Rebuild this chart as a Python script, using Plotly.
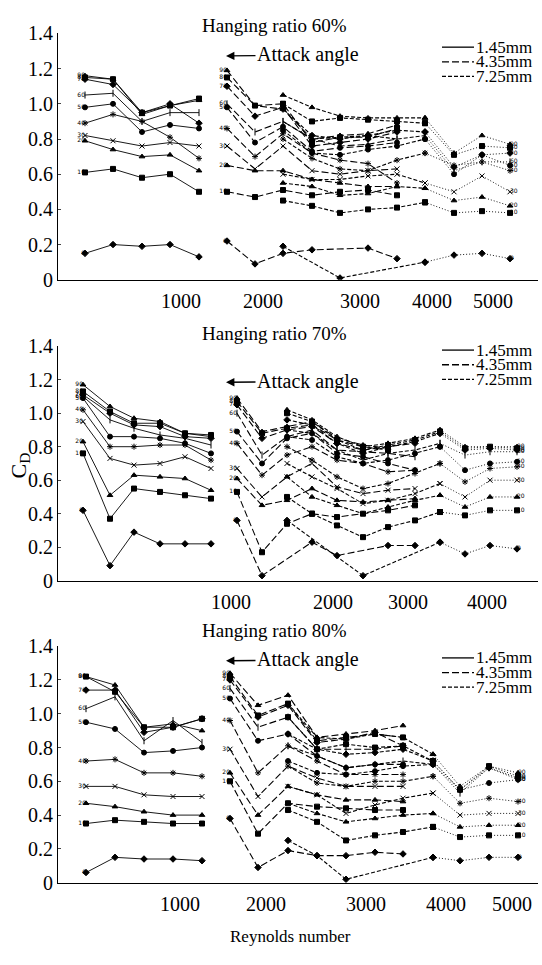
import plotly.graph_objects as go

W, H = 542, 965

ANGLE_LABELS = ["0", "10", "20", "30", "40", "50", "60", "70", "80", "90"]
MARKERS = ["diamond", "square", "triangle-up", "x-thin-open", "asterisk-open",
           "circle", "line-ns-open", "diamond", "square", "triangle-up"]
Y_TICKS = [0, 0.2, 0.4, 0.6, 0.8, 1.0, 1.2, 1.4]
Y_TICKTEXT = ["0", "0.2", "0.4", "0.6", "0.8", "1.0", "1.2", "1.4"]
LEGEND_NAMES = ["1.45mm", "4.35mm", "7.25mm"]

# ---------------- Hanging ratio 60% ----------------
P60_X_A = [27, 55, 84, 112, 141]
P60_A = [
    [0.15, 0.20, 0.19, 0.20, 0.13],
    [0.61, 0.63, 0.58, 0.60, 0.50],
    [0.79, 0.74, 0.70, 0.71, 0.62],
    [0.82, 0.79, 0.76, 0.78, 0.76],
    [0.89, 0.94, 0.90, 0.81, 0.69],
    [0.98, 1.00, 0.84, 0.88, 0.86],
    [1.05, 1.06, 0.90, 0.95, 0.95],
    [1.14, 1.11, 0.95, 1.00, 0.89],
    [1.15, 1.14, 0.95, 0.99, 1.03],
    [1.16, 1.14, 0.94, 0.99, 1.02],
]
P60_X_B = [169, 197, 225, 254, 282, 310, 339]
P60_B = [
    [0.22, 0.09, 0.15, 0.17, None, 0.18, 0.12],
    [0.50, 0.47, 0.51, 0.48, 0.50, 0.51, 0.48],
    [0.65, 0.62, 0.62, 0.57, 0.55, 0.53, 0.53],
    [0.76, 0.63, 0.76, 0.62, 0.60, 0.62, 0.63],
    [0.86, 0.70, 0.83, 0.72, 0.68, 0.66, 0.55],
    [0.98, 0.78, 0.87, 0.73, 0.75, 0.76, 0.78],
    [1.00, 0.84, 0.90, 0.80, 0.76, 0.77, 0.80],
    [1.10, 0.93, 0.98, 0.76, 0.78, 0.80, 0.84],
    [1.15, 0.99, 1.00, 0.78, 0.81, 0.81, 0.86],
    [1.19, 0.99, 0.97, 0.80, 0.82, 0.83, 0.88],
]
P60_X_C = [225, 254, 282, 310, 339, 367]
P60_C = [
    [0.19, None, 0.01, None, None, 0.10],
    [0.45, 0.42, 0.38, 0.40, 0.41, 0.44],
    [0.55, 0.53, 0.48, 0.49, 0.53, 0.52],
    [0.60, 0.57, 0.57, 0.59, 0.60, 0.55],
    [0.80, 0.69, 0.63, 0.62, 0.68, 0.72],
    [0.85, 0.72, 0.71, 0.74, 0.76, 0.80],
    [0.90, 0.80, 0.81, 0.82, 0.80, 0.82],
    [0.97, 0.82, 0.80, 0.82, 0.85, 0.84],
    [1.00, 0.90, 0.92, 0.91, 0.90, 0.89],
    [1.05, 0.98, 0.93, 0.92, 0.92, 0.92],
]
P60_X_D = [396, 424, 452]
P60_D = [
    [0.14, 0.15, 0.12],
    [0.38, 0.39, 0.38],
    [0.45, 0.47, 0.42],
    [0.50, 0.59, 0.50],
    [0.65, 0.67, 0.62],
    [0.60, 0.71, 0.65],
    [0.62, 0.67, 0.67],
    [0.64, 0.71, 0.72],
    [0.71, 0.76, 0.75],
    [0.72, 0.82, 0.77],
]
P60_TICKVALS = [123, 205, 302, 374, 435]
P60_TICKTEXT = ["1000", "2000", "3000", "4000", "5000"]

# ---------------- Hanging ratio 70% ----------------
P70_X_A = [25, 52, 76, 102, 127, 153]
P70_A = [
    [0.42, 0.09, 0.29, 0.22, 0.22, 0.22],
    [0.76, 0.37, 0.55, 0.53, 0.51, 0.49],
    [0.83, 0.51, 0.63, 0.62, 0.61, 0.54],
    [0.95, 0.73, 0.69, 0.70, 0.74, 0.67],
    [1.02, 0.80, 0.80, 0.81, 0.81, 0.72],
    [1.09, 0.86, 0.86, 0.85, 0.82, 0.76],
    [1.10, 0.96, 0.91, 0.87, 0.85, 0.81],
    [1.11, 1.00, 0.93, 0.92, 0.86, 0.85],
    [1.13, 1.01, 0.94, 0.94, 0.88, 0.87],
    [1.17, 1.04, 0.97, 0.95, 0.88, 0.86],
]
P70_X_B = [179, 204, 229, 254, 279, 305, 330, 357]
P70_B = [
    [0.36, 0.03, None, 0.23, 0.15, None, 0.21, 0.21],
    [0.53, 0.17, 0.34, 0.40, 0.38, 0.40, 0.42, 0.45],
    [0.61, 0.45, 0.48, 0.55, 0.48, 0.47, 0.48, 0.49],
    [0.67, 0.50, 0.62, 0.70, 0.56, 0.52, 0.54, 0.55],
    [0.82, 0.63, 0.75, 0.80, 0.72, 0.70, 0.65, 0.66],
    [0.89, 0.70, 0.85, 0.88, 0.76, 0.74, 0.70, 0.66],
    [1.00, 0.75, 0.86, 0.90, 0.78, 0.77, 0.76, 0.74],
    [1.05, 0.85, 0.90, 0.92, 0.82, 0.78, 0.80, 0.82],
    [1.07, 0.88, 0.91, 0.93, 0.84, 0.80, 0.78, None],
    [1.09, 0.89, 0.92, 0.95, 0.85, 0.81, 0.79, None],
]
P70_X_C = [229, 254, 279, 305, 330, 357, 382]
P70_C = [
    [0.36, None, None, 0.03, None, None, 0.23],
    [0.50, 0.40, 0.33, 0.26, 0.32, 0.36, 0.41],
    [0.62, 0.50, 0.45, 0.40, 0.44, 0.48, 0.51],
    [0.70, 0.62, 0.55, 0.46, 0.48, 0.52, 0.58],
    [0.80, 0.72, 0.62, 0.55, 0.58, 0.64, 0.70],
    [0.86, 0.84, 0.74, 0.70, 0.72, 0.76, 0.80],
    [0.90, 0.88, 0.78, 0.72, 0.76, 0.78, 0.82],
    [0.96, 0.93, 0.82, 0.76, 0.80, 0.83, 0.88],
    [1.00, 0.95, 0.84, 0.78, 0.81, 0.84, 0.89],
    [1.02, 0.96, 0.86, 0.80, 0.82, 0.85, 0.90],
]
P70_X_D = [407, 432, 459]
P70_D = [
    [0.16, 0.21, 0.19],
    [0.39, 0.42, 0.42],
    [0.44, 0.50, 0.50],
    [0.50, 0.60, 0.60],
    [0.59, 0.67, 0.68],
    [0.66, 0.70, 0.71],
    [0.75, 0.77, 0.77],
    [0.78, 0.79, 0.78],
    [0.79, 0.80, 0.79],
    [0.80, 0.80, 0.80],
]
P70_TICKVALS = [173, 275, 350, 429]
P70_TICKTEXT = ["1000", "2000", "3000", "4000"]

# ---------------- Hanging ratio 80% ----------------
P80_X_A = [28, 57, 86, 115, 144]
P80_A = [
    [0.06, 0.15, 0.14, 0.14, 0.13],
    [0.35, 0.37, 0.36, 0.35, 0.35],
    [0.47, 0.45, 0.42, 0.40, 0.40],
    [0.57, 0.57, 0.52, 0.51, 0.51],
    [0.72, 0.73, 0.65, 0.65, 0.63],
    [0.95, 0.91, 0.77, 0.78, 0.80],
    [1.03, 1.10, 0.84, 0.96, 0.83],
    [1.14, 1.14, 0.89, 0.92, 0.97],
    [1.22, 1.13, 0.92, 0.92, 0.97],
    [1.22, 1.17, 0.92, 0.94, 0.90],
]
P80_X_B = [172, 200, 230, 259, 288, 317, 345]
P80_B = [
    [0.38, 0.09, 0.19, 0.16, 0.16, 0.18, 0.17],
    [0.60, 0.29, 0.47, 0.45, 0.44, 0.43, 0.43],
    [0.65, 0.40, 0.57, 0.52, 0.49, 0.49, 0.48],
    [0.79, 0.51, 0.69, 0.62, 0.57, 0.57, 0.57],
    [0.96, 0.65, 0.81, 0.72, 0.64, 0.64, 0.64],
    [1.09, 0.84, 0.88, 0.75, 0.68, 0.70, 0.70],
    [1.15, 0.92, 0.98, 0.79, 0.79, 0.79, 0.81],
    [1.20, 0.98, 1.05, 0.83, 0.85, 0.89, 0.81],
    [1.22, 0.99, 1.06, 0.84, 0.86, 0.88, 0.86],
    [1.24, 1.05, 1.11, 0.86, 0.88, 0.90, 0.93],
]
P80_X_C = [230, 259, 288, 317, 345, 375]
P80_C = [
    [0.25, 0.16, 0.02, None, None, 0.15],
    [0.43, 0.36, 0.25, 0.28, 0.30, 0.33],
    [0.47, 0.41, 0.36, 0.38, 0.40, 0.41],
    [0.57, 0.52, 0.41, 0.46, 0.50, 0.53],
    [0.69, 0.59, 0.57, 0.60, 0.60, 0.63],
    [0.72, 0.65, 0.64, 0.66, 0.69, 0.70],
    [0.81, 0.75, 0.68, 0.70, 0.72, 0.70],
    [0.88, 0.79, 0.76, 0.77, 0.79, 0.72],
    [0.98, 0.79, 0.82, 0.80, 0.81, 0.72],
    [1.06, 0.86, 0.85, 0.88, 0.86, 0.76],
]
P80_X_D = [402, 431, 460]
P80_D = [
    [0.13, 0.15, 0.15],
    [0.27, 0.28, 0.28],
    [0.33, 0.34, 0.34],
    [0.40, 0.41, 0.41],
    [0.47, 0.50, 0.48],
    [0.55, 0.59, 0.61],
    [0.53, 0.68, 0.61],
    [0.55, 0.68, 0.62],
    [0.55, 0.69, 0.63],
    [0.57, 0.69, 0.65],
]
P80_TICKVALS = [122, 208, 308, 388, 454]
P80_TICKTEXT = ["1000", "2000", "3000", "4000", "5000"]

PANELS = [
    dict(title="Hanging ratio 60%", xa=P60_X_A, a=P60_A, xb=P60_X_B, b=P60_B,
         xc=P60_X_C, c=P60_C, xd=P60_X_D, d=P60_D,
         tv=P60_TICKVALS, tt=P60_TICKTEXT, top=23, bot=275,
         title_y=15, legend_y=(37, 52, 67), arrow_y=46),
    dict(title="Hanging ratio 70%", xa=P70_X_A, a=P70_A, xb=P70_X_B, b=P70_B,
         xc=P70_X_C, c=P70_C, xd=P70_X_D, d=P70_D,
         tv=P70_TICKVALS, tt=P70_TICKTEXT, top=343, bot=583,
         title_y=330, legend_y=(347, 362, 377), arrow_y=380),
    dict(title="Hanging ratio 80%", xa=P80_X_A, a=P80_A, xb=P80_X_B, b=P80_B,
         xc=P80_X_C, c=P80_C, xd=P80_X_D, d=P80_D,
         tv=P80_TICKVALS, tt=P80_TICKTEXT, top=650, bot=892,
         title_y=634, legend_y=(662, 677, 692), arrow_y=665),
]

X_LEFT, X_RIGHT = 58, 538
SERIF = "Liberation Serif, Times New Roman, serif"
DASH_B = "7px,3px"
DASH_C = "4px,2px"
DASH_D = "1px,2px"


def px(x):
    return x / W


def py(y):
    return 1 - y / H


fig = go.Figure()
layout = {}
annotations = []
shapes = []

for i, p in enumerate(PANELS):
    sfx = "" if i == 0 else str(i + 1)
    xa_name, ya_name = "x" + sfx, "y" + sfx

    def add_series(xs, ys, dash, k, width=1.0):
        fig.add_trace(go.Scatter(
            x=xs, y=ys, mode="lines+markers", connectgaps=True,
            line=dict(color="black", width=width, dash=dash),
            marker=dict(symbol=MARKERS[k], size=5, color="black",
                        line=dict(color="black", width=1)),
            xaxis=xa_name, yaxis=ya_name, showlegend=False, hoverinfo="skip"))

    for k in range(len(ANGLE_LABELS)):
        add_series(p["xa"], p["a"][k], "solid", k, 0.9)
        add_series(p["xb"], p["b"][k], DASH_B, k, 1.1)
        add_series(p["xc"], p["c"][k], DASH_C, k, 1.1)
        add_series([p["xc"][-1]] + p["xd"], [p["c"][k][-1]] + p["d"][k], DASH_D, k, 0.9)

    label_font = dict(size=6, color="#000000", family="DejaVu Sans")
    for xs, vals, pos, idx in [(p["xa"], p["a"], "middle left", 0),
                               (p["xb"], p["b"], "middle left", 0),
                               (p["xd"], p["d"], "middle right", -1)]:
        fig.add_trace(go.Scatter(
            x=[xs[idx]] * len(ANGLE_LABELS), y=[v[idx] for v in vals],
            mode="text", text=ANGLE_LABELS, textposition=pos,
            textfont=label_font, xaxis=xa_name, yaxis=ya_name,
            showlegend=False, hoverinfo="skip"))

    layout["xaxis" + sfx] = dict(
        domain=[px(X_LEFT), px(X_RIGHT)], range=[0, X_RIGHT - X_LEFT],
        anchor=ya_name, showline=True, linecolor="black", linewidth=1.2,
        showgrid=False, zeroline=False, tickmode="array",
        tickvals=p["tv"], ticktext=p["tt"], ticks="outside", ticklen=3,
        tickcolor="rgba(0,0,0,0)",
        tickfont=dict(family=SERIF, size=20, color="black"))
    layout["yaxis" + sfx] = dict(
        domain=[py(p["bot"]), py(p["top"])], range=[0, 1.4],
        anchor=xa_name, showline=True, linecolor="black", linewidth=1.2,
        showgrid=False, zeroline=False, tickmode="array",
        tickvals=Y_TICKS, ticktext=Y_TICKTEXT, ticks="inside", ticklen=3,
        tickfont=dict(family=SERIF, size=20, color="black"))

    annotations.append(dict(
        text=p["title"], x=px(274), y=py(p["title_y"]), xref="paper", yref="paper",
        showarrow=False, font=dict(family=SERIF, size=19, color="black"),
        xanchor="center", yanchor="middle"))

    # Attack angle note with arrow
    annotations.append(dict(
        text="Attack angle", x=px(226), y=py(p["arrow_y"]), xref="paper", yref="paper",
        ax=82, ay=-1, showarrow=True, arrowhead=2, arrowsize=1.2, arrowwidth=1.4,
        arrowcolor="black", standoff=0,
        font=dict(family=SERIF, size=20, color="black")))

    # legend
    for j, (name, dash) in enumerate(zip(LEGEND_NAMES, ["solid", DASH_B, DASH_C])):
        yy = py(p["legend_y"][j])
        shapes.append(dict(type="line", xref="paper", yref="paper",
                           x0=px(442), x1=px(474), y0=yy, y1=yy,
                           line=dict(color="black", width=1.3, dash=dash)))
        annotations.append(dict(
            text=name, x=px(474), y=yy, xref="paper", yref="paper",
            showarrow=False, xanchor="left", yanchor="middle",
            font=dict(family=SERIF, size=17, color="black")))

annotations.append(dict(
    text="C<sub>D</sub>", x=px(20), y=py(465), xref="paper", yref="paper",
    showarrow=False, textangle=-90, xanchor="center", yanchor="middle",
    font=dict(family=SERIF, size=22, color="black")))
annotations.append(dict(
    text="Reynolds number", x=px(290), y=py(947), xref="paper", yref="paper",
    showarrow=False, xanchor="center", yanchor="middle",
    font=dict(family=SERIF, size=17, color="black")))

fig.update_layout(
    width=W, height=H, margin=dict(l=0, r=0, t=0, b=0),
    paper_bgcolor="white", plot_bgcolor="white",
    annotations=annotations, shapes=shapes, **layout)

fig.write_html("out.html")
